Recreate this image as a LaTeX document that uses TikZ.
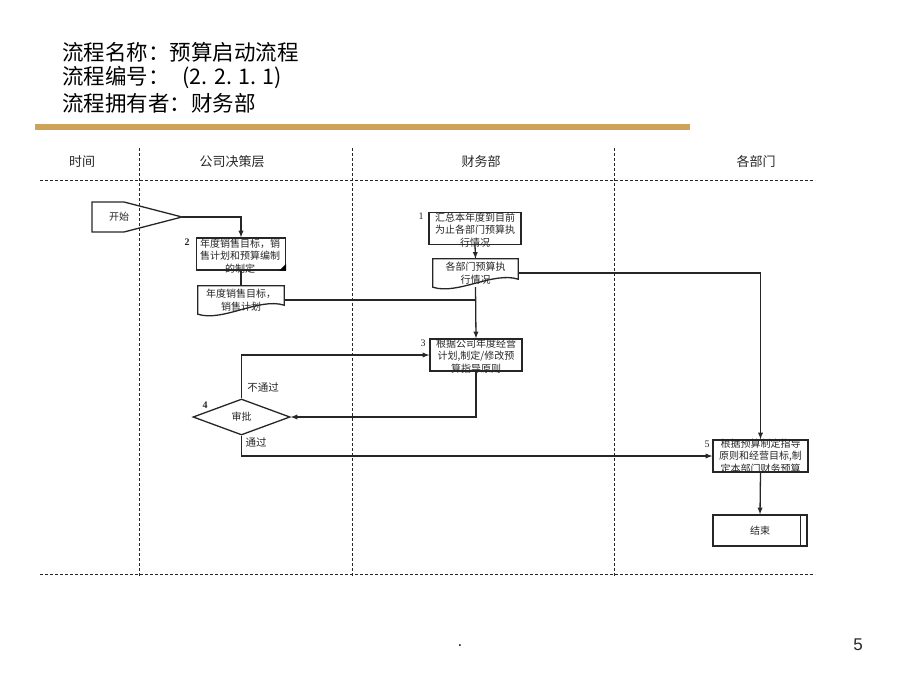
\documentclass[tikz,border=0pt]{standalone}
\usepackage{fontspec}
\setmainfont{Noto Sans CJK SC}
\newfontfamily\pagefont{Liberation Sans}
\newfontfamily\stepfont{Liberation Serif}
\usetikzlibrary{shapes.geometric}
\definecolor{goldbar}{RGB}{204,163,88}

\begin{document}
\begin{tikzpicture}[x=1pt, y=-1pt,
    every node/.style={inner sep=0pt, text=black!85},
    box/.style={draw=black!85, line width=1.3pt, minimum width=92pt, minimum height=32pt},
    doc/.style={minimum width=86pt, minimum height=28pt, align=center, font=\fontsize{10}{13}\selectfont},
    txt/.style={align=center, font=\fontsize{10}{12.5}\selectfont},
    num/.style={font=\stepfont\fontsize{10}{10}\selectfont\bfseries},
    lanehead/.style={font=\fontsize{13}{13}\selectfont},
    lane/.style={black!85, line width=1pt, dash pattern=on 3pt off 2pt},
    shapeline/.style={draw=black!85, line width=1.3pt},
    link/.style={-latex, line width=1.3pt, black!85}]

    \useasboundingbox (0,0) rectangle (920,690);

    % title block
    \node[anchor=west, font=\fontsize{21.5}{21.5}\selectfont, text=black] (title1) at (62,52) {流程名称：预算启动流程};
    \node[anchor=west, font=\fontsize{21.5}{21.5}\selectfont, text=black] (title2) at (62,78) {流程编号：\hspace{0.6em}(2. 2. 1. 1)};
    \node[anchor=west, font=\fontsize{21.5}{21.5}\selectfont, text=black] (title3) at (62,103) {流程拥有者：财务部};
    \draw[goldbar, line width=5pt] (35,127) -- (690,127);

    % swim lanes
    \node[lanehead] (time) at (82,162) {时间};
    \node[lanehead] (board) at (232,162) {公司决策层};
    \node[lanehead] (finance) at (481,162) {财务部};
    \node[lanehead] (depts) at (756,162) {各部门};
    \draw[lane] (40,180) -- (815,180);
    \draw[lane] (40,574) -- (815,574);
    \foreach \x in {139,352,614}
        \draw[lane] (\x,148) -- (\x,576);

    % start
    \draw[shapeline] (92,202) -- (124,202) -- (182,217) -- (124,232) -- (92,232) -- cycle;
    \node[txt] (start) at (119,217) {开始};
    \coordinate (starttip) at (182,217);

    % step 2
    \node[box, minimum width=89pt] (b2) at (241,254) {};
    \node[txt] (t2) at (240,256) {年度销售目标，销\\售计划和预算编制\\的制定};
    \fill[black] (b2.south east) -- ++(0,-7) -- ++(-7,7) -- cycle;
    \node[num] (n2) at (187,242) {2};

    \node[doc] (d1) at (241,300) {年度销售目标，\\销售计划};
    \draw[shapeline] (d1.north west) -- (d1.north east) -- ([yshift=9]d1.south east)
        .. controls +(-25,-8) and +(25,8) .. (d1.south west) -- cycle;

    % step 1
    \node[box] (b1) at (475,228.5) {};
    \node[txt] (t1) at (475,230) {汇总本年度到目前\\为止各部门预算执\\行情况};
    \node[num, font=\stepfont\fontsize{10}{10}\selectfont] (n1) at (421,216) {1};

    \node[doc, minimum width=85pt] (d2) at (475.5,273) {各部门预算执\\行情况};
    \draw[shapeline] (d2.north west) -- (d2.north east) -- ([yshift=8]d2.south east)
        .. controls +(-25,-8) and +(25,8) .. (d2.south west) -- cycle;

    % step 3
    \node[box] (b3) at (476,355) {};
    \node[txt] (t3) at (476,356) {根据公司年度经营\\计划,制定/修改预\\算指导原则};
    \node[num, font=\stepfont\fontsize{10}{10}\selectfont] (n3) at (423,343) {3};

    % step 4
    \node[diamond, aspect=2.7, shapeline, minimum width=97pt, minimum height=36pt, txt] (chk) at (241.5,417) {审批};
    \node[num] (n4) at (205,405) {4};

    % step 5
    \node[box, minimum width=95pt] (b5) at (760.5,456) {};
    \node[txt] (t5) at (760.5,456) {根据预算制定指导\\原则和经营目标,制\\定本部门财务预算};
    \node[num, font=\stepfont\fontsize{10}{10}\selectfont] (n5) at (707,444) {5};

    % end
    \node[box, minimum width=94pt, minimum height=31pt, txt] (end) at (760,530.5) {结束};
    \draw[shapeline] ([xshift=-7]end.north east) -- ([xshift=-7]end.south east);

    % connectors
    \draw[link] (starttip) -| (b2.north);
    \draw[line width=1.3pt, black!85] (b2.south) -- (d1.north);
    \draw[line width=1.3pt, black!85] (d1.east) -- (d1.east -| d2.south);
    \draw[link] (b1.south) -- (d2.north);
    \draw[link] (d2.south) -- (b3.north);
    \draw[link] (d2.east) -| (b5.north);
    \draw[link] (b3.south) |- (chk.east);
    \draw[link] (chk.north) |- (b3.west);
    \draw[link] (chk.south) |- (b5.west);
    \draw[link] (b5.south) -- (end.north);

    \node[txt, font=\fontsize{10.5}{10.5}\selectfont] (reject) at (263,388) {不通过};
    \node[txt, font=\fontsize{10.5}{10.5}\selectfont] (pass) at (256,442) {通过};

    % page footer
    \node[font=\pagefont\fontsize{17}{17}\selectfont] (dot) at (460,646) {.};
    \node[font=\pagefont\fontsize{17}{17}\selectfont] (page) at (858,645) {5};
\end{tikzpicture}
\end{document}
